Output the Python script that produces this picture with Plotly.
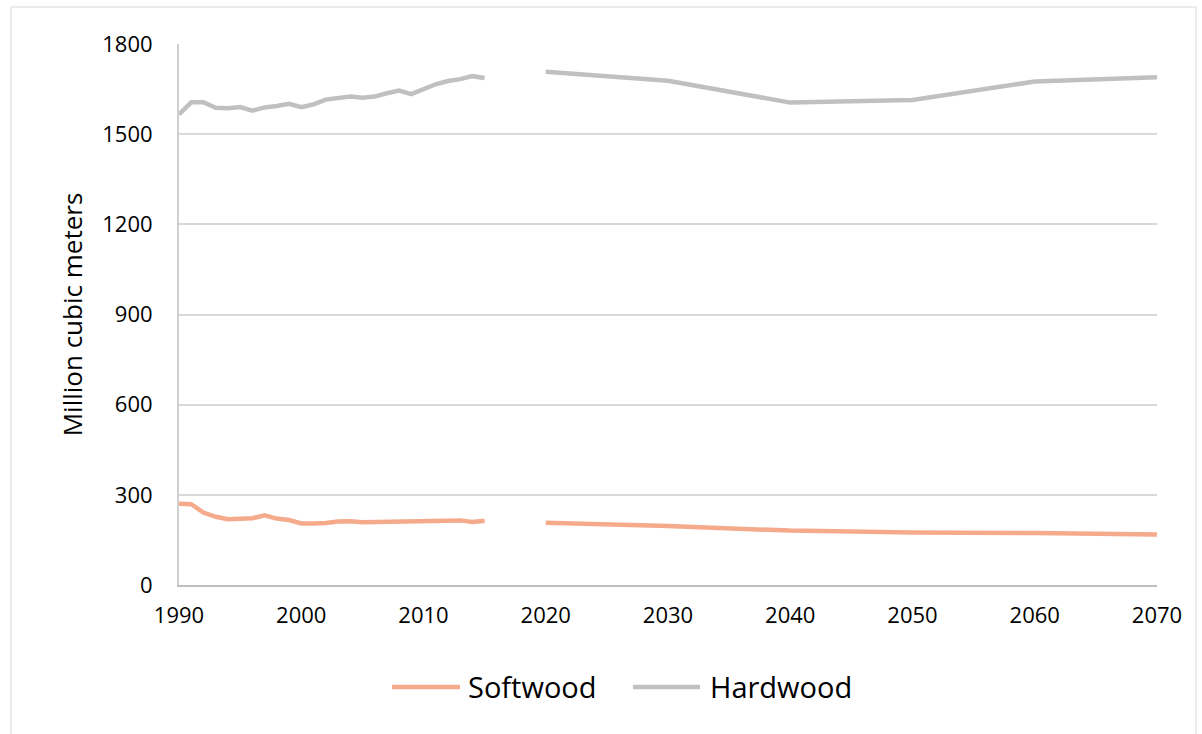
import plotly.graph_objects as go

# Observed annual series, 1990-2015
hist_years = list(range(1990, 2016))
softwood_hist = [270, 269, 241, 227, 219, 222, 222, 232, 221, 216,
                 205, 205, 206, 211, 212, 209, 210, 211, 211, 212,
                 214, 213, 214, 215, 210, 214]
hardwood_hist = [1566, 1606, 1606, 1588, 1586, 1590, 1578, 1589, 1594, 1601,
                 1590, 1599, 1615, 1621, 1625, 1621, 1625, 1636, 1645, 1633,
                 1650, 1666, 1677, 1683, 1693, 1687]

# Projected series, 2020-2070
proj_years = [2020, 2030, 2040, 2050, 2060, 2070]
softwood_proj = [207, 196, 181, 175, 173, 168]
hardwood_proj = [1708, 1678, 1605, 1614, 1675, 1689]

y_ticks = [0, 300, 600, 900, 1200, 1500, 1800]
x_ticks = [1990, 2000, 2010, 2020, 2030, 2040, 2050, 2060, 2070]

SOFT_COLOR = "#F4AA8B"
HARD_COLOR = "#C0C0C0"
FONT = "Open Sans"
LINE_W = 4.5

fig = go.Figure()

series = [
    ("Softwood", SOFT_COLOR, softwood_hist, softwood_proj),
    ("Hardwood", HARD_COLOR, hardwood_hist, hardwood_proj),
]
for name, color, hist, proj in series:
    fig.add_trace(go.Scatter(
        x=hist_years, y=hist, mode="lines", name=name, legendgroup=name,
        showlegend=False,
        line=dict(color=color, width=LINE_W, shape="linear"),
    ))
    fig.add_trace(go.Scatter(
        x=proj_years, y=proj, mode="lines", name=name, legendgroup=name,
        showlegend=False,
        line=dict(color=color, width=LINE_W, shape="linear"),
    ))

# light frame around the whole chart area
fig.add_shape(
    type="rect", xref="paper", yref="paper",
    x0=-0.1718, x1=1.0399, y0=-0.30, y1=1.0684,
    line=dict(color="#D9D9D9", width=1), fillcolor="rgba(0,0,0,0)",
    layer="below",
)

# legend below the plot: long line swatch followed by the series name
legend_y = -0.1885
legend_items = [
    ("Softwood", SOFT_COLOR, 0.2178, 0.2873, 0.2935),
    ("Hardwood", HARD_COLOR, 0.4642, 0.5327, 0.5409),
]
for label, color, x0, x1, xt in legend_items:
    fig.add_shape(
        type="line", xref="paper", yref="paper",
        x0=x0, x1=x1, y0=legend_y, y1=legend_y,
        line=dict(color=color, width=LINE_W),
    )
    fig.add_annotation(
        xref="paper", yref="paper", x=xt, y=legend_y,
        xanchor="left", yanchor="middle", showarrow=False,
        text=label, font=dict(family=FONT, size=29, color="#000000"),
    )

fig.update_layout(
    width=1202, height=734,
    margin=dict(l=179, r=45, t=44, b=149),
    paper_bgcolor="white", plot_bgcolor="white",
    font=dict(family=FONT, color="#000000"),
    showlegend=False,
    xaxis=dict(
        range=[1990, 2070],
        tickmode="array", tickvals=x_ticks,
        ticktext=[str(v) for v in x_ticks],
        showgrid=False, zeroline=False,
        showline=True, linecolor="#BFBFBF", linewidth=2,
        ticks="", ticklabelstandoff=10,
        tickfont=dict(family=FONT, size=22, color="#000000"),
    ),
    yaxis=dict(
        range=[0, 1800],
        tickmode="array", tickvals=y_ticks,
        ticktext=[str(v) for v in y_ticks],
        showgrid=True, gridcolor="#D9D9D9", gridwidth=2,
        zeroline=False,
        showline=True, linecolor="#D0D0D0", linewidth=2,
        ticks="", ticklabelstandoff=20,
        tickfont=dict(family=FONT, size=22, color="#000000"),
        title=dict(text="Million cubic meters", standoff=12,
                   font=dict(family=FONT, size=26, color="#000000")),
    ),
)

fig.write_html("out.html")
